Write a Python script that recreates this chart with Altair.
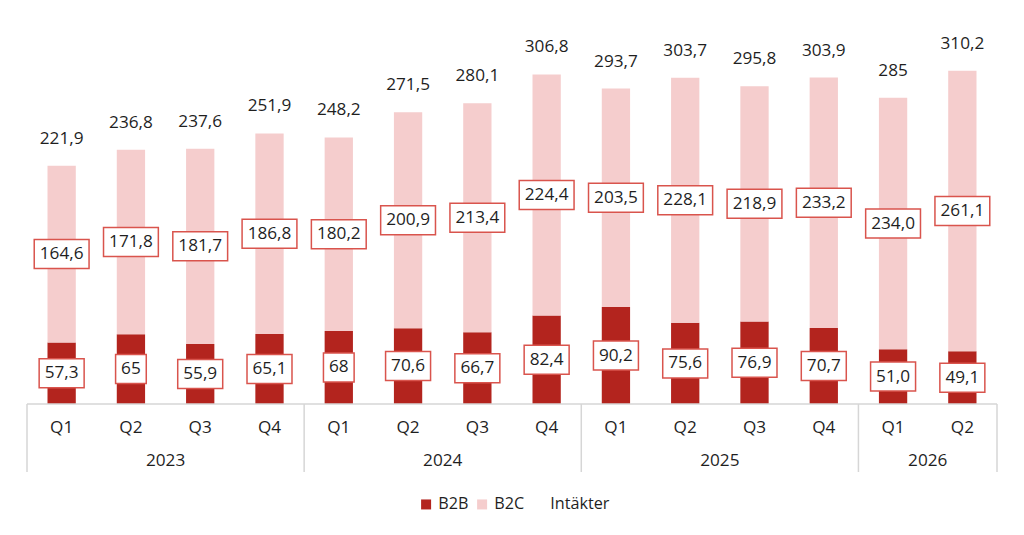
import altair as alt
import pandas as pd

# ---------------- data ----------------
years = ["2023", "2024", "2025", "2026"]
quarters_per_year = [4, 4, 4, 2]
quarters = ["Q1", "Q2", "Q3", "Q4", "Q1", "Q2", "Q3", "Q4", "Q1", "Q2", "Q3", "Q4", "Q1", "Q2"]
b2b = [57.3, 65.0, 55.9, 65.1, 68.0, 70.6, 66.7, 82.4, 90.2, 75.6, 76.9, 70.7, 51.0, 49.1]
b2c = [164.6, 171.8, 181.7, 186.8, 180.2, 200.9, 213.4, 224.4, 203.5, 228.1, 218.9, 233.2, 234.0, 261.1]
totals = [221.9, 236.8, 237.6, 251.9, 248.2, 271.5, 280.1, 306.8, 293.7, 303.7, 295.8, 303.9, 285.0, 310.2]
b2b_labels = ["57,3", "65", "55,9", "65,1", "68", "70,6", "66,7", "82,4", "90,2", "75,6", "76,9", "70,7", "51,0", "49,1"]
b2c_labels = ["164,6", "171,8", "181,7", "186,8", "180,2", "200,9", "213,4", "224,4", "203,5", "228,1", "218,9", "233,2", "234,0", "261,1"]
total_labels = ["221,9", "236,8", "237,6", "251,9", "248,2", "271,5", "280,1", "306,8", "293,7", "303,7", "295,8", "303,9", "285", "310,2"]

# ---------------- style ----------------
FONT = "Open Sans"
FS = 17.2
TXT = "#1f1f1f"
RED = "#B3241E"
PINK = "#F5CDCD"
BOX = "#D9544D"
GRID = "#D6D6D6"
PAD_L, PAD_T = 22, 20
PLOT_W, PLOT_H = 980, 384
Y_MAX = 357.5
BOX_HALF = 13.5  # in data units (~29 px box)


def text_w(s):
    return sum(0.26 * FS if c == "," else 0.572 * FS for c in s) + 11


n = len(quarters)
pos = [i + 0.5 for i in range(n)]

bars = pd.DataFrame(
    {
        "pos": pos * 2,
        "seg": ["B2B"] * n + ["B2C"] * n,
        "y0": [0.0] * n + b2b,
        "y1": b2b + totals,
    }
)

boxes = pd.DataFrame(
    {
        "pos": pos * 2,
        "mid": [v / 2 for v in b2b] + [a + c / 2 for a, c in zip(b2b, b2c)],
        "label": b2b_labels + b2c_labels,
    }
)
boxes["lo"] = boxes["mid"] - BOX_HALF
boxes["hi"] = boxes["mid"] + BOX_HALF
boxes["bw"] = boxes["label"].map(text_w)

tot = pd.DataFrame({"pos": pos, "total": totals, "label": total_labels})
qdf = pd.DataFrame({"pos": pos, "q": quarters})

bounds = [0]
for c in quarters_per_year:
    bounds.append(bounds[-1] + c)
ydf = pd.DataFrame(
    {"center": [(bounds[i] + bounds[i + 1]) / 2 for i in range(len(years))], "year": years}
)
sep = pd.DataFrame({"x": bounds})
base_line = pd.DataFrame({"x": [0], "x2": [bounds[-1]], "y": [0]})

xs = alt.Scale(domain=[0, bounds[-1]], nice=False, zero=False)
ys = alt.Scale(domain=[0, Y_MAX], nice=False, zero=True)

X = lambda f: alt.X(f, type="quantitative", scale=xs, axis=None)
Y = lambda f: alt.Y(f, type="quantitative", scale=ys, axis=None)

bar_layer = alt.Chart(bars).mark_bar(size=28.3, orient="vertical").encode(
    x=X("pos"),
    y=Y("y0"),
    y2="y1",
    color=alt.Color(
        "seg:N",
        scale=alt.Scale(domain=["B2B", "B2C", "Intäkter"], range=[RED, PINK, "rgba(0,0,0,0)"]),
        legend=alt.Legend(
            orient="none",
            legendX=396,
            legendY=476,
            direction="horizontal",
            title=None,
            symbolType="square",
            symbolSize=100,
            symbolStrokeWidth=0,
            labelFont=FONT,
            labelFontSize=16.2,
            labelColor=TXT,
            labelOffset=4,
            columnPadding=5,
            padding=0,
        ),
    ),
)

hline = alt.Chart(base_line).mark_rule(color=GRID, strokeWidth=1.5).encode(
    x=X("x"), x2="x2", y=Y("y")
)

vlines = alt.Chart(sep).mark_rule(color=GRID, strokeWidth=1.5).encode(
    x=X("x"), y=alt.value(PLOT_H), y2=alt.value(PLOT_H + 68)
)

qtext = alt.Chart(qdf).mark_text(font=FONT, fontSize=FS, color=TXT, baseline="middle").encode(
    x=X("pos"), y=alt.value(PLOT_H + 24), text="q:N"
)

ytext = alt.Chart(ydf).mark_text(font=FONT, fontSize=FS, color=TXT, baseline="middle").encode(
    x=X("center"), y=alt.value(PLOT_H + 57), text="year:N"
)

box_layer = alt.Chart(boxes).mark_bar(
    fill="white", stroke=BOX, strokeWidth=1.5, orient="vertical"
).encode(
    x=X("pos"), y=Y("lo"), y2="hi", size=alt.Size("bw:Q", scale=None, legend=None)
)

box_text = alt.Chart(boxes).mark_text(font=FONT, fontSize=FS, color=TXT, baseline="middle").encode(
    x=X("pos"), y=Y("mid"), text="label:N"
)

tot_text = alt.Chart(tot).mark_text(
    font=FONT, fontSize=FS, color=TXT, baseline="middle", dy=-27
).encode(x=X("pos"), y=Y("total"), text="label:N")

chart = (
    alt.layer(bar_layer, hline, vlines, qtext, ytext, box_layer, box_text, tot_text)
    .properties(
        width=PLOT_W,
        height=PLOT_H,
        autosize=alt.AutoSizeParams(type="none"),
        padding={"left": PAD_L, "top": PAD_T, "right": 1024 - PAD_L - PLOT_W, "bottom": 535 - PAD_T - PLOT_H},
        background="white",
    )
    .configure_view(stroke=None)
)

chart.save("out.html", embed_options={"renderer": "svg", "actions": False})
